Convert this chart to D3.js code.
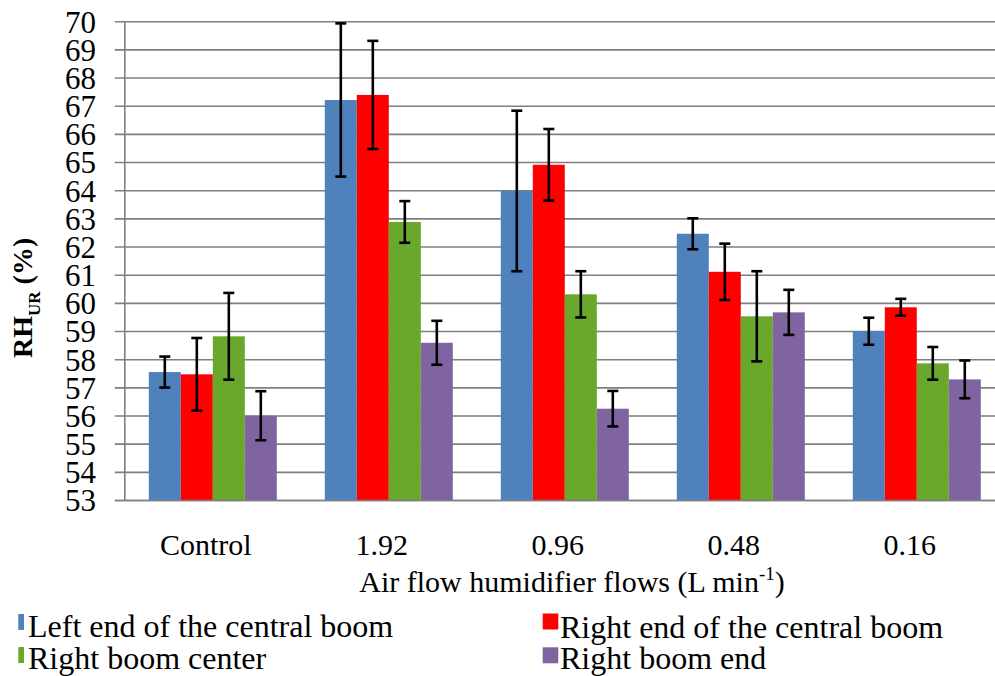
<!DOCTYPE html>
<html>
<head>
<meta charset="utf-8">
<script src="https://cdn.jsdelivr.net/npm/d3@7"></script>
<style>
  html, body { margin: 0; padding: 0; background: #fff; }
  svg text { font-family: "Liberation Serif", "DejaVu Serif", serif; }
</style>
</head>
<body>
<svg id="chart" width="995" height="676" font-family="Liberation Serif, DejaVu Serif, serif"></svg>
<script>
// ---- data ----
const categories = ["Control", "1.92", "0.96", "0.48", "0.16"];
const seriesNames = ["Left end of the central boom", "Right end of the central boom", "Right boom center", "Right boom end"];
const seriesColors = ["#4F81BD", "#FF0000", "#69A82B", "#8064A2"];
const leftEndValues    = [57.56, 67.22, 63.99, 62.47, 59.01];
const leftEndErrors    = [0.55, 2.72, 2.85, 0.55, 0.48];
const rightEndValues   = [57.48, 67.40, 64.92, 61.12, 59.86];
const rightEndErrors   = [1.29, 1.92, 1.27, 1.00, 0.30];
const boomCenterValues = [58.83, 62.89, 60.32, 59.54, 57.87];
const boomCenterErrors = [1.54, 0.74, 0.82, 1.60, 0.58];
const boomEndValues    = [56.01, 58.60, 56.26, 59.68, 57.30];
const boomEndErrors    = [0.87, 0.78, 0.63, 0.80, 0.67];
const yTicks = d3.range(53, 71, 1);

const seriesValues = [leftEndValues, rightEndValues, boomCenterValues, boomEndValues];
const seriesErrors = [leftEndErrors, rightEndErrors, boomCenterErrors, boomEndErrors];

// ---- layout ----
const FONT = "'Liberation Serif', 'DejaVu Serif', serif";
const svg = d3.select("#chart");
const plotLeft = 124.8, plotRight = 1004.8, plotTop = 21.7, plotBottom = 500.5;

const x = d3.scaleBand().domain(categories).range([plotLeft, plotRight])
  .paddingInner(0.2727).paddingOuter(0.1364);
const xs = d3.scaleBand().domain(seriesNames).range([0, x.bandwidth()]).padding(0);
const y = d3.scaleLinear().domain([53, 70]).range([plotBottom, plotTop]);

const gridColor = "#7f7f7f";

// gridlines
svg.append("g").selectAll("line").data(yTicks).join("line")
  .attr("x1", plotLeft - 10).attr("x2", 995)
  .attr("y1", d => y(d)).attr("y2", d => y(d))
  .attr("stroke", gridColor).attr("stroke-width", 1.6);

// y axis line
svg.append("line").attr("x1", plotLeft).attr("x2", plotLeft)
  .attr("y1", plotTop).attr("y2", plotBottom)
  .attr("stroke", gridColor).attr("stroke-width", 1.6);

// y tick labels
svg.append("g").selectAll("text").data(yTicks).join("text")
  .attr("x", 96).attr("y", d => y(d)).attr("dy", "0.35em")
  .attr("text-anchor", "end").attr("font-size", 31).attr("fill", "#000")
  .style("font-family", FONT)
  .text(d => d);

// bars
const rows = [];
seriesNames.forEach((s, si) => {
  categories.forEach((c, ci) => {
    rows.push({ s, si, c, v: seriesValues[si][ci], e: seriesErrors[si][ci] });
  });
});

svg.append("g").selectAll("rect").data(rows).join("rect")
  .attr("x", d => x(d.c) + xs(d.s))
  .attr("width", xs.bandwidth())
  .attr("y", d => y(d.v))
  .attr("height", d => y(53) - y(d.v))
  .attr("fill", d => seriesColors[d.si]);

// bottom axis line over bars
svg.append("line").attr("x1", plotLeft - 10).attr("x2", 995)
  .attr("y1", plotBottom).attr("y2", plotBottom)
  .attr("stroke", gridColor).attr("stroke-width", 1.6);

// error bars
const eb = svg.append("g").attr("stroke", "#000").attr("stroke-width", 2.6);
const capHalf = 5.5;
rows.forEach(d => {
  const cx = x(d.c) + xs(d.s) + xs.bandwidth() / 2;
  eb.append("line").attr("x1", cx).attr("x2", cx)
    .attr("y1", y(d.v + d.e)).attr("y2", y(d.v - d.e));
  eb.append("line").attr("x1", cx - capHalf).attr("x2", cx + capHalf)
    .attr("y1", y(d.v + d.e)).attr("y2", y(d.v + d.e));
  eb.append("line").attr("x1", cx - capHalf).attr("x2", cx + capHalf)
    .attr("y1", y(d.v - d.e)).attr("y2", y(d.v - d.e));
});

// x tick labels
svg.append("g").selectAll("text").data(categories).join("text")
  .attr("x", d => x(d) + x.bandwidth() / 2 - 7)
  .attr("y", 555)
  .attr("text-anchor", "middle").attr("font-size", 30).attr("fill", "#000")
  .style("font-family", FONT)
  .text(d => d);

// x axis title
const xt = svg.append("text").attr("x", 572).attr("y", 592)
  .attr("text-anchor", "middle").attr("font-size", 30).attr("fill", "#000")
  .style("font-family", FONT);
xt.append("tspan").text("Air flow humidifier flows (L min");
xt.append("tspan").attr("font-size", 19).attr("dy", -12).text("-1");
xt.append("tspan").attr("dy", 12).text(")");

// y axis title
const yt = svg.append("text")
  .attr("transform", "translate(32,358) rotate(-90)")
  .attr("text-anchor", "start").attr("font-size", 28).attr("font-weight", "bold").attr("fill", "#000")
  .style("font-family", FONT);
yt.append("tspan").text("RH");
yt.append("tspan").attr("font-size", 17).attr("dy", 8).text("UR");
yt.append("tspan").attr("dy", -8).text(" (%)");

// legend
const legendItems = [
  { name: seriesNames[0], color: seriesColors[0], mx: 18.3, mw: 5.7, my: 614, tx: 28, ty: 637 },
  { name: seriesNames[1], color: seriesColors[1], mx: 542.7, mw: 15.6, my: 613.5, tx: 560, ty: 637.5 },
  { name: seriesNames[2], color: seriesColors[2], mx: 18.3, mw: 5.7, my: 647, tx: 28, ty: 669 },
  { name: seriesNames[3], color: seriesColors[3], mx: 542.7, mw: 15.6, my: 647.3, tx: 560, ty: 669 }
];
const lg = svg.append("g");
lg.selectAll("rect").data(legendItems).join("rect")
  .attr("x", d => d.mx).attr("y", d => d.my).attr("width", d => d.mw).attr("height", 16)
  .attr("fill", d => d.color);
lg.selectAll("text").data(legendItems).join("text")
  .attr("x", d => d.tx).attr("y", d => d.ty)
  .attr("font-size", 32).attr("fill", "#000")
  .style("font-family", FONT)
  .text(d => d.name);
</script>
</body>
</html>
